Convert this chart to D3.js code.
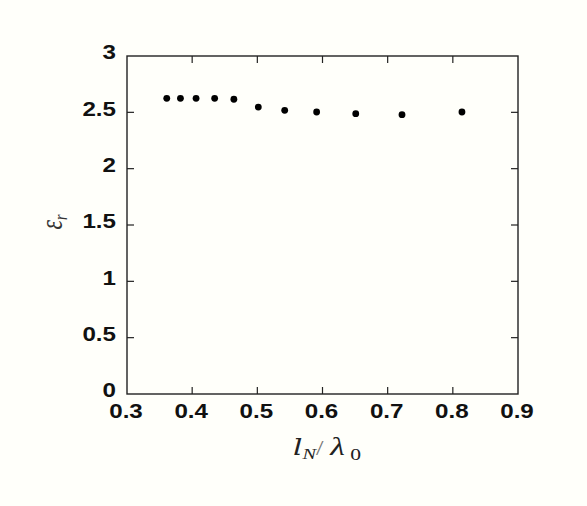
<!DOCTYPE html>
<html><head><meta charset="utf-8">
<script src="https://cdn.jsdelivr.net/npm/d3@7"></script>
<style>
html,body{margin:0;padding:0;background:#fffffa;}
svg{display:block;}
</style></head>
<body>
<svg id="chart" width="587" height="506"></svg>
<script>
const xValues = [0.361, 0.382, 0.406, 0.4345, 0.464, 0.5015, 0.542, 0.591, 0.651, 0.722, 0.814];
const yValues = [2.624, 2.624, 2.624, 2.624, 2.616, 2.547, 2.518, 2.503, 2.488, 2.479, 2.503];
const xTicks = [0.3, 0.4, 0.5, 0.6, 0.7, 0.8, 0.9];
const yTicks = [0, 0.5, 1, 1.5, 2, 2.5, 3];

const svg = d3.select("#chart");
const x = d3.scaleLinear().domain([0.3, 0.9]).range([127, 518]);
const y = d3.scaleLinear().domain([0, 3]).range([394, 56]);
const axisColor = "#222";
const sx = 1.15;

// frame
svg.append("rect").attr("x", x(0.3)).attr("y", y(3))
  .attr("width", x(0.9) - x(0.3)).attr("height", y(0) - y(3))
  .attr("fill", "none").attr("stroke", axisColor).attr("stroke-width", 1.4);

// inward ticks
const tl = 7;
const inner = xTicks.slice(1, -1), innerY = yTicks.slice(1, -1);
svg.selectAll(".xtb").data(inner).join("line")
  .attr("x1", d => x(d)).attr("x2", d => x(d)).attr("y1", y(0)).attr("y2", y(0) - tl)
  .attr("stroke", axisColor).attr("stroke-width", 1.2);
svg.selectAll(".xtt").data(inner).join("line")
  .attr("x1", d => x(d)).attr("x2", d => x(d)).attr("y1", y(3)).attr("y2", y(3) + tl)
  .attr("stroke", axisColor).attr("stroke-width", 1.2);
svg.selectAll(".ytl").data(innerY).join("line")
  .attr("y1", d => y(d)).attr("y2", d => y(d)).attr("x1", x(0.3)).attr("x2", x(0.3) + tl)
  .attr("stroke", axisColor).attr("stroke-width", 1.2);
svg.selectAll(".ytr").data(innerY).join("line")
  .attr("y1", d => y(d)).attr("y2", d => y(d)).attr("x1", x(0.9)).attr("x2", x(0.9) - tl)
  .attr("stroke", axisColor).attr("stroke-width", 1.2);

// tick labels
const fmt = d => String(d);
svg.selectAll(".xl").data(xTicks).join("text")
  .attr("transform", d => `translate(${x(d) - 1},418) scale(${sx},1)`)
  .attr("text-anchor", "middle")
  .attr("font-family", "Liberation Sans, Arial, sans-serif").attr("font-weight", "bold")
  .attr("font-size", 21).attr("fill", "#111").text(fmt);
svg.selectAll(".yl").data(yTicks).join("text")
  .attr("transform", d => `translate(116,${y(d) + 3.2}) scale(${sx},1)`)
  .attr("text-anchor", "end")
  .attr("font-family", "Liberation Sans, Arial, sans-serif").attr("font-weight", "bold")
  .attr("font-size", 21).attr("fill", "#111").text(fmt);

// points
const pts = xValues.map((v, i) => ({x: v, y: yValues[i]}));
svg.selectAll(".pt").data(pts).join("circle")
  .attr("cx", d => x(d.x)).attr("cy", d => y(d.y)).attr("r", 3.4).attr("fill", "#000");

// x title
const xt = svg.append("text").attr("transform", "translate(327,455) scale(1.35,1)").attr("text-anchor", "middle")
  .attr("font-family", "Liberation Serif, Times New Roman, serif").attr("font-size", 25).attr("fill", "#222");
xt.append("tspan").attr("font-style", "italic").attr("font-family", "DejaVu Serif, serif").attr("font-size", 22).text("l");
xt.append("tspan").attr("font-style", "italic").attr("font-size", 15).attr("dy", 4).text("N");
xt.append("tspan").attr("font-size", 20).attr("dy", -4).attr("fill", "#777").text("/ ");
xt.append("tspan").attr("font-style", "italic").text("λ");
xt.append("tspan").attr("font-size", 16).attr("dy", 5).text(" 0");

// y title
const yt = svg.append("text").attr("transform", "translate(62,222) rotate(-90) scale(1,1.3)").attr("text-anchor", "middle")
  .attr("font-family", "Liberation Serif, Times New Roman, serif").attr("font-size", 24).attr("fill", "#333");
yt.append("tspan").attr("font-style", "italic").text("ε");
yt.append("tspan").attr("font-style", "italic").attr("font-size", 14).attr("dy", 4).text("r");
</script>
</body></html>
